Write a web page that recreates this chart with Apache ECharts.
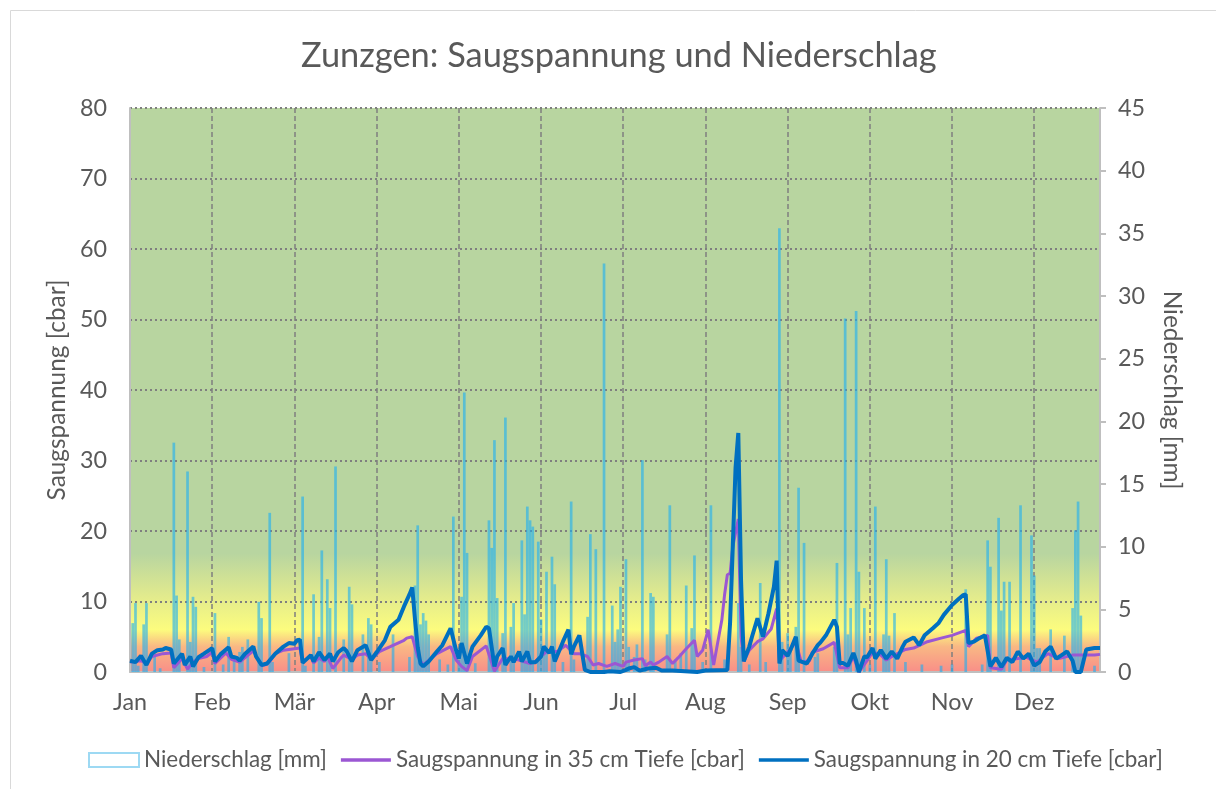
<!DOCTYPE html>
<html><head><meta charset="utf-8">
<script src="https://cdn.jsdelivr.net/npm/echarts/dist/echarts.min.js"></script>
<style>html,body{margin:0;padding:0;background:#fff}#c{width:1216px;height:789px}</style>
</head><body><div id="c"></div>
<script>
// ---- data ----
const months = ['Jan','Feb','Mär','Apr','Mai','Jun','Jul','Aug','Sep','Okt','Nov','Dez'];
const leftTicks = [0,10,20,30,40,50,60,70,80];
const rightTicks = [0,5,10,15,20,25,30,35,40,45];
// [day, mm]
const precip = [[1,3.9],[2,5.5],[3,0.5],[5,3.8],[6,5.5],[9,1.2],[11,0.3],[16,18.3],[17,6.1],[18,2.6],[21,16.0],[22,2.4],[23,6.0],[24,5.2],[27,0.4],[31,4.7],[34,0.6],[36,2.8],[38,1.3],[40,1.6],[41,2.0],[43,2.6],[47,5.6],[48,4.3],[51,12.7],[52,0.8],[58,1.5],[63,14.0],[64,0.5],[67,6.2],[69,2.8],[70,9.7],[72,7.4],[73,5.1],[75,16.4],[78,2.6],[80,6.8],[81,5.4],[85,3.0],[87,4.3],[88,3.8],[91,0.8],[96,3.0],[102,1.2],[104,6.9],[105,11.7],[106,3.8],[107,4.7],[108,4.1],[109,3.0],[113,1.0],[116,0.6],[118,12.4],[120,1.0],[121,6.0],[122,22.3],[123,9.5],[126,0.7],[131,12.1],[132,9.9],[133,18.5],[134,5.9],[136,3.1],[137,20.3],[139,3.6],[140,5.5],[143,10.5],[144,4.6],[145,13.2],[146,12.1],[147,11.6],[149,10.4],[150,4.2],[151,2.0],[152,8.0],[154,9.2],[155,7.0],[158,0.8],[161,13.6],[162,1.0],[167,4.4],[168,11.0],[170,9.8],[173,32.6],[176,5.3],[177,2.4],[178,3.4],[179,6.8],[181,9.0],[182,2.0],[184,1.2],[185,2.2],[187,16.9],[188,1.0],[190,6.3],[191,6.0],[196,3.0],[197,13.3],[199,1.0],[201,1.5],[203,6.9],[205,3.5],[206,9.3],[209,0.8],[212,13.3],[217,1.0],[222,5.5],[223,2.0],[226,0.6],[230,7.1],[232,0.8],[237,35.4],[238,2.4],[240,3.1],[241,2.0],[243,3.6],[244,14.7],[246,10.3],[250,1.2],[251,1.5],[257,2.0],[258,8.7],[261,28.2],[262,3.0],[263,5.1],[265,28.8],[266,8.0],[268,5.1],[270,0.6],[272,13.2],[275,3.0],[276,9.0],[277,2.9],[279,4.7],[283,0.8],[289,0.6],[296,0.5],[300,0.6],[305,6.6],[311,0.6],[313,10.5],[314,8.4],[317,12.3],[318,4.9],[319,7.2],[321,7.2],[325,13.3],[329,10.9],[330,7.7],[331,1.9],[332,1.9],[336,3.4],[341,2.9],[344,5.1],[345,11.3],[346,13.6],[347,4.5],[352,0.5]];
// [day, cbar] 35 cm
const suction35 = [[0,1.4],[4,1.6],[6,1.2],[8,2.2],[12,2.6],[15,2.7],[16,0.6],[19,1.9],[21,0.4],[23,1.4],[25,1.9],[28,2.2],[30,2.8],[31,1.2],[35,2.7],[37,1.8],[40,1.4],[45,3.0],[48,0.9],[50,1.1],[51,1.5],[53,2.6],[56,3.1],[62,3.4],[63,1.5],[66,2.2],[67,1.3],[69,2.0],[71,1.5],[72,2.2],[74,0.5],[77,2.0],[78,2.4],[81,1.8],[83,2.4],[86,2.6],[88,1.8],[91,2.9],[95,3.6],[100,4.5],[101,4.8],[103,5.0],[105,2.2],[107,1.0],[112,2.6],[117,3.6],[119,1.7],[121,0.8],[123,0.2],[125,2.2],[130,3.7],[133,0.1],[136,1.9],[141,1.8],[146,1.2],[148,1.5],[150,2.2],[152,2.9],[156,2.9],[159,3.8],[162,2.6],[164,2.6],[167,2.2],[169,1.0],[171,1.2],[174,0.8],[177,1.2],[180,0.8],[181,1.4],[184,1.7],[187,1.9],[188,0.9],[190,1.4],[191,1.0],[193,1.4],[196,2.2],[198,1.2],[200,2.0],[203,3.3],[206,4.5],[207,2.2],[209,3.1],[211,6.0],[213,1.0],[216,7.4],[217,11.0],[218,13.8],[219,14.0],[220,17.8],[222,21.7],[223,5.0],[224,1.5],[226,3.1],[229,4.3],[231,4.7],[234,6.1],[236,9.0],[237,1.6],[240,2.8],[243,4.2],[245,1.4],[248,1.6],[249,2.8],[253,3.3],[257,4.2],[259,0.6],[262,0.6],[264,2.2],[266,0],[269,1.6],[271,2.8],[274,2.4],[276,1.7],[279,2.4],[281,2.8],[283,3.2],[286,3.4],[291,4.3],[296,4.8],[300,5.2],[305,5.9],[306,3.6],[309,4.8],[313,5.2],[314,0.6],[318,0.4],[320,1.7],[324,1.9],[327,2.1],[331,1.4],[335,2.6],[339,1.9],[344,2.4],[347,2.4],[352,2.4],[354,2.5]];
// [day, cbar] 20 cm
const suction20 = [[0,1.6],[2,1.4],[4,2.3],[6,1.0],[8,2.6],[10,3.1],[12,3.2],[13,3.4],[15,3.2],[16,1.2],[19,2.6],[20,1.0],[22,2.2],[23,0.8],[25,2.1],[27,2.6],[30,3.4],[31,1.5],[33,2.5],[36,3.5],[37,2.2],[39,2.0],[40,1.6],[42,2.6],[45,3.6],[46,2.2],[48,1.0],[50,1.2],[53,2.6],[56,3.6],[58,4.1],[60,4.0],[61,4.5],[62,4.6],[63,1.3],[66,2.4],[67,1.5],[69,2.8],[71,1.7],[73,2.6],[74,1.5],[76,2.8],[78,3.4],[79,3.0],[81,1.5],[83,3.1],[86,3.8],[88,1.7],[90,2.8],[93,4.5],[95,6.4],[98,7.4],[100,9.3],[102,11.0],[103,12.0],[104,7.5],[105,3.5],[106,1.2],[107,0.8],[109,1.5],[112,2.9],[114,3.8],[117,6.2],[119,3.1],[120,1.9],[121,4.1],[123,1.2],[125,3.6],[128,5.2],[130,6.4],[131,6.2],[133,0.8],[134,2.2],[136,3.4],[137,1.0],[139,2.2],[140,1.4],[142,2.9],[143,1.5],[145,2.9],[146,1.4],[148,1.4],[150,2.2],[151,3.6],[153,2.7],[154,3.6],[155,1.5],[158,4.3],[160,6.0],[161,2.5],[162,3.6],[164,5.2],[166,0.3],[168,0],[173,0],[175,0.1],[179,0],[181,0.3],[182,0.5],[184,0.7],[186,0.2],[189,0.5],[192,0.6],[194,0.2],[198,0.2],[207,0],[210,0.2],[218,0.3],[219,7],[220,18],[221,29],[222,33.9],[223,13],[224,1.5],[226,3.6],[227,5.0],[229,7.6],[231,5.0],[233,8.3],[235,12.1],[236,15.8],[237,1.2],[238,3.1],[240,2.3],[241,3.1],[243,5.0],[244,1.6],[247,1.2],[249,2.6],[251,3.8],[252,4.2],[254,5.2],[257,7.4],[258,6.4],[259,1.2],[260,1.3],[262,0.9],[264,2.7],[265,1.6],[266,0],[268,2.2],[269,2.1],[271,3.4],[272,1.9],[274,3.1],[276,1.9],[278,2.9],[280,1.9],[282,3.6],[283,4.3],[286,4.9],[288,3.8],[290,5.2],[293,6.2],[295,6.9],[297,8.1],[300,9.5],[302,10.2],[304,10.9],[305,11.0],[306,4.1],[308,4.3],[310,4.8],[312,5.2],[314,0.8],[316,2.0],[318,0.7],[320,2.0],[322,1.4],[324,2.9],[326,1.9],[328,2.6],[330,0.9],[332,1.4],[334,2.9],[336,3.6],[338,1.9],[340,2.4],[342,2.9],[344,1.6],[345,0],[347,0],[349,3.2],[352,3.4],[354,3.4]];

// ---- fonts ----
const FAM = 'Lato';
const cv = document.createElement('canvas').getContext('2d');
function fit(text, target){ cv.font = '20px ' + FAM; return 20 * target / cv.measureText(text).width; }
const titleSize = fit('Zunzgen: Saugspannung und Niederschlag', 636);
const legendSize = fit('Niederschlag [mm]', 183);
const nameSize = fit('Saugspannung [cbar]', 221);
const labelSize = fit('Jan', 34);
const TXT = '#595959';
const LINE_ICON = 'path://M0,0L50,0L50,3.5L0,3.5Z';

const chart = echarts.init(document.getElementById('c'));
const bg = new echarts.graphic.LinearGradient(0, 0, 0, 1, [
  {offset: 0, color: '#B8D5A0'},
  {offset: 0.79, color: '#B8D5A0'},
  {offset: 0.87, color: '#E4EC8C'},
  {offset: 0.925, color: '#FCFC7E'},
  {offset: 0.955, color: '#F9B884'},
  {offset: 1, color: '#F98E88'}
]);
chart.setOption({
  animation: false,
  textStyle: {fontFamily: FAM},
  title: {text: 'Zunzgen: Saugspannung und Niederschlag', left: 296, top: 34,
    textStyle: {fontFamily: FAM, fontSize: titleSize, fontWeight: 'normal', color: TXT}},
  graphic: [{type: 'rect', shape: {x: 10.5, y: 10.5, width: 1230, height: 800}, style: {fill: 'none', stroke: '#D9D9D9', lineWidth: 1}, silent: true, z: -10}],
  grid: {left: 130, right: 116, top: 108, bottom: 117, show: true, backgroundColor: bg, borderWidth: 0, outerBoundsMode: 'none'},
  legend: {left: 83, top: 744, itemWidth: 50, itemHeight: 14, itemGap: 14, symbolKeepAspect: true,
    textStyle: {fontFamily: FAM, fontSize: legendSize, color: TXT},
    data: [
      {name: 'Niederschlag [mm]', icon: 'rect', itemStyle: {color: '#ffffff', borderColor: '#9DD9F3', borderWidth: 2}},
      {name: 'Saugspannung in 35 cm Tiefe [cbar]', icon: LINE_ICON, itemStyle: {color: '#9B57D3'}},
      {name: 'Saugspannung in 20 cm Tiefe [cbar]', icon: LINE_ICON, itemStyle: {color: '#0070C0'}}
    ]},
  xAxis: {type: 'value', min: 0, max: 354, interval: 30,
    axisLine: {show: true, lineStyle: {color: '#BFBFBF', width: 2}},
    axisTick: {show: false},
    axisLabel: {margin: 19, fontSize: labelSize, color: TXT, fontFamily: FAM, showMaxLabel: false,
      formatter: v => (v % 30 === 0 && months[v / 30]) ? months[v / 30] : ''},
    splitLine: {show: true, lineStyle: {color: '#7F7F7F', type: [5, 3], width: 1.5}}},
  yAxis: [
    {type: 'value', min: 0, max: 80, interval: 10, position: 'left',
      name: 'Saugspannung [cbar]', nameLocation: 'middle', nameGap: 56, nameRotate: 90,
      nameTextStyle: {fontFamily: FAM, fontSize: nameSize, color: TXT},
      axisLine: {show: true, lineStyle: {color: '#BFBFBF', width: 2}},
      axisTick: {show: false},
      axisLabel: {margin: 23, fontSize: labelSize, color: TXT, fontFamily: FAM},
      splitLine: {show: true, lineStyle: {color: '#7F7F7F', type: [2, 3], width: 2}}},
    {type: 'value', min: 0, max: 45, interval: 5, position: 'right',
      name: 'Niederschlag [mm]', nameLocation: 'middle', nameGap: 60, nameRotate: -90,
      nameTextStyle: {fontFamily: FAM, fontSize: nameSize, color: TXT},
      axisLine: {show: true, lineStyle: {color: '#BFBFBF', width: 2}},
      axisTick: {show: true, length: 6, lineStyle: {color: '#BFBFBF', width: 2}},
      axisLabel: {margin: 18, fontSize: labelSize, color: TXT, fontFamily: FAM},
      splitLine: {show: false}}
  ],
  series: [
    {name: 'Niederschlag [mm]', type: 'bar', yAxisIndex: 1, data: precip, barWidth: 2.7,
      itemStyle: {color: 'rgba(27,175,243,0.6)'}, z: 1},
    {name: 'Saugspannung in 35 cm Tiefe [cbar]', type: 'line', yAxisIndex: 0, data: suction35,
      symbol: 'none', lineStyle: {color: '#9B57D3', width: 3}, itemStyle: {color: '#9B57D3'}, z: 2},
    {name: 'Saugspannung in 20 cm Tiefe [cbar]', type: 'line', yAxisIndex: 0, data: suction20,
      symbol: 'none', lineStyle: {color: '#0070C0', width: 4}, itemStyle: {color: '#0070C0'}, z: 3}
  ]
});
</script></body></html>
